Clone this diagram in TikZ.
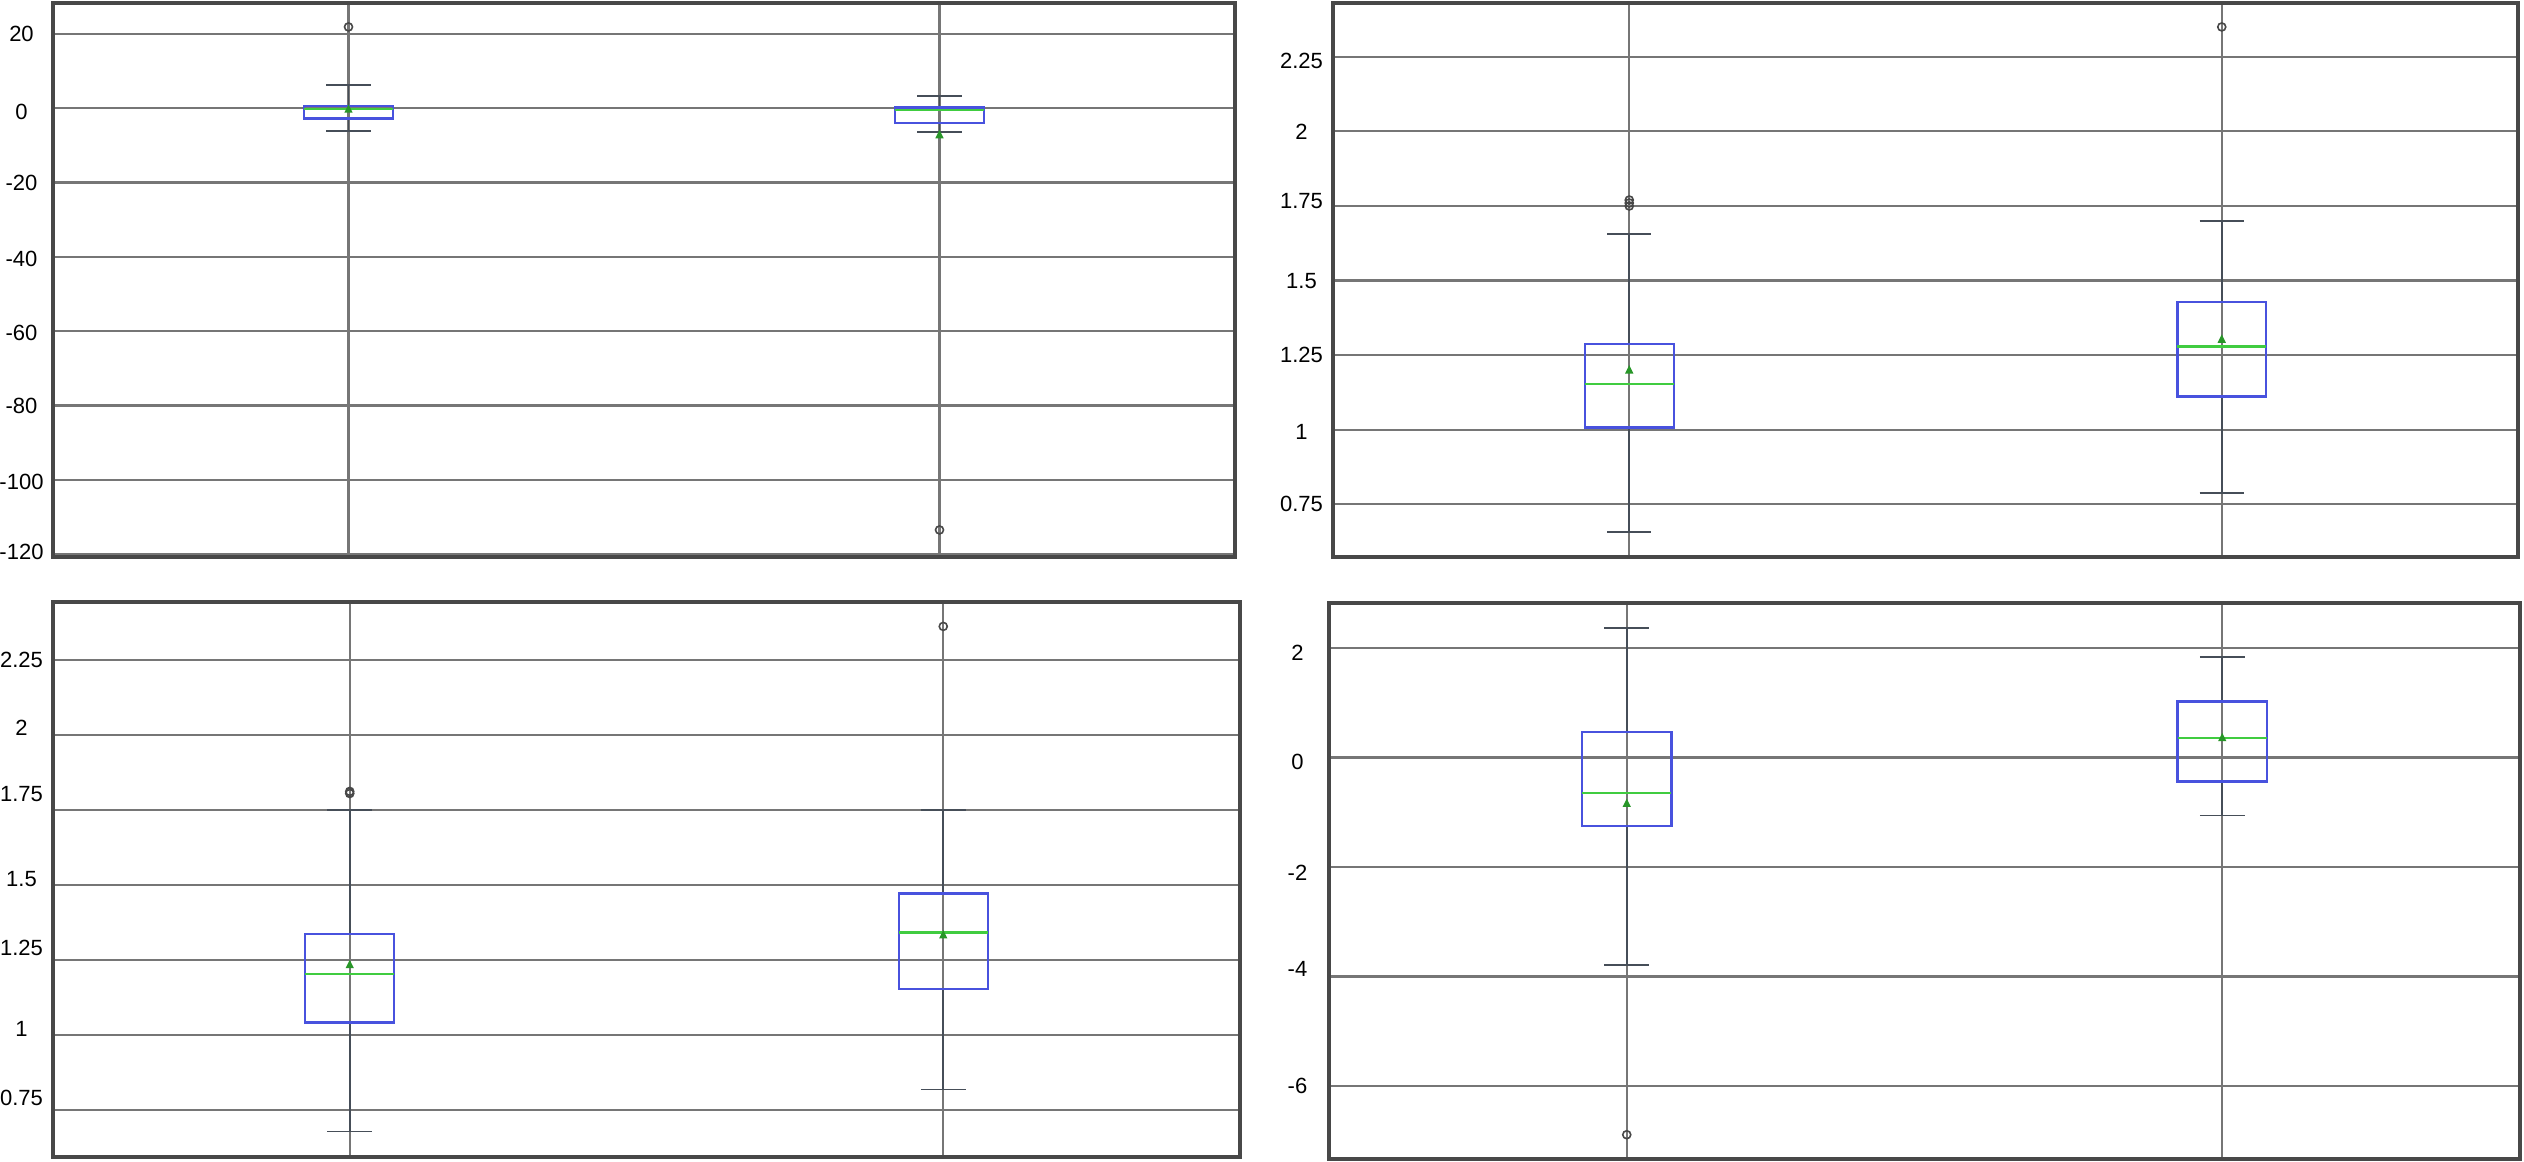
\documentclass[tikz,border=0pt]{standalone}
\usepackage{fontspec}
\setmainfont{Liberation Sans}

\definecolor{boxblue}{RGB}{72,82,222}
\definecolor{medgreen}{RGB}{64,204,64}
\definecolor{meangreen}{RGB}{40,150,40}
\definecolor{gridgray}{RGB}{118,118,118}
\definecolor{framegray}{RGB}{72,72,72}
\definecolor{whiskgray}{RGB}{70,78,88}

% position, low cap, q1, median, q3, high cap, mean
\newcommand{\bxplt}[7]{%
	\draw[whisk] (#1,#3) -- (#1,#2) (#1,#5) -- (#1,#6);
	\draw[whisk] (#1-0.0375,#2) -- (#1+0.0375,#2) (#1-0.0375,#6) -- (#1+0.0375,#6);
	\draw[boxline] (#1-0.075,#3) rectangle (#1+0.075,#5);
	\draw[medline] (#1-0.075,#4) -- (#1+0.075,#4);
	\fill[meanmark] (#1,#7) ++(0,2.2pt) -- ++(-2.1pt,-4.2pt) -- ++(4.2pt,0) -- cycle;
}

\begin{document}
\begin{tikzpicture}[%
		gridline/.style = {draw = gridgray, line width = 1.1pt},
		panelframe/.style = {draw = framegray, line width = 2pt},
		whisk/.style = {draw = whiskgray, line width = 0.9pt},
		boxline/.style = {draw = boxblue, line width = 1.2pt},
		medline/.style = {draw = medgreen, line width = 1.2pt},
		meanmark/.style = {fill = meangreen},
		outl/.style = {draw = framegray, line width = 0.8pt},
		ticklabel/.style = {font = \fontsize{11}{13}\selectfont, inner sep = 0pt, xshift = -15.75pt}]
		\fill[white] (0,0) rectangle (1262pt,581pt);
		\useasboundingbox (0,0) rectangle (1262pt,581pt);
		%%%%%%%%%%%%% top left
		\begin{scope}[shift = {(-121.25pt,526.85pt)}, x = 295.5pt, y = 1.8575pt]
			\foreach \v/\dy [count=\i] in {20/0, 0/-1.7, -20/0, -40/-1, -60/-1, -80/0, -100/-1, -120/1.2} {
				\draw[gridline] (0.5,\v) -- (2.5,\v);
				\node[ticklabel, yshift = \dy pt] (tl\i) at (0.5,\v) {\v};
			}
			\draw[gridline] (1,-120.78) -- (1,28.34) (2,-120.78) -- (2,28.34);
			\bxplt{1}{-6.2}{-2.8}{-0.27}{0.62}{6.2}{-0.1}
			\bxplt{2}{-6.4}{-4.04}{-0.46}{0.16}{3.3}{-7.0}
			\draw[outl] (1,21.9) circle (2pt);
			\draw[outl] (2,-113.5) circle (2pt);
			\draw[panelframe] (0.5,-120.78) rectangle (2.5,28.34);
		\end{scope}
		%%%%%%%%%%%%% top right
		\begin{scope}[shift = {(518.375pt,216.9pt)}, x = 296.25pt, y = 149.2pt]
			\foreach \v/\dy [count=\i] in {2.25/-2, 2/0, 1.75/2.5, 1.5/0, 1.25/0, 1/-1, 0.75/0} {
				\draw[gridline] (0.5,\v) -- (2.5,\v);
				\node[ticklabel, yshift = \dy pt] (tr\i) at (0.5,\v) {\v};
			}
			\draw[gridline] (1,0.574) -- (1,2.43) (2,0.574) -- (2,2.43);
			\bxplt{1}{0.658}{1.008}{1.153}{1.287}{1.657}{1.202}
			\bxplt{2}{0.789}{1.111}{1.279}{1.429}{1.701}{1.305}
			\draw[outl] (1,1.75) circle (2pt) (1,1.76) circle (2pt) (1,1.77) circle (2pt);
			\draw[outl] (2,2.35) circle (2pt);
			\draw[panelframe] (0.5,0.574) rectangle (2.5,2.43);
		\end{scope}
		%%%%%%%%%%%%% bottom left
		\begin{scope}[shift = {(-121.875pt,-86.5pt)}, x = 296.75pt, y = 150pt]
			\foreach \v/\dy [count=\i] in {2.25/0, 2/3.75, 1.75/8, 1.5/3, 1.25/6, 1/3, 0.75/6} {
				\draw[gridline] (0.5,\v) -- (2.5,\v);
				\node[ticklabel, yshift = \dy pt] (bl\i) at (0.5,\v) {\v};
			}
			\draw[gridline] (1,0.593) -- (1,2.443) (2,0.593) -- (2,2.443);
			\bxplt{1}{0.678}{1.042}{1.203}{1.336}{1.75}{1.236}
			\bxplt{2}{0.818}{1.153}{1.342}{1.471}{1.75}{1.335}
			\draw[outl] (1,1.805) circle (2pt) (1,1.812) circle (2pt);
			\draw[outl] (2,2.362) circle (2pt);
			\draw[panelframe] (0.5,0.593) rectangle (2.5,2.443);
		\end{scope}
		%%%%%%%%%%%%% bottom right
		\begin{scope}[shift = {(515.625pt,202.25pt)}, x = 297.75pt, y = 27.375pt]
			\foreach \v/\dy [count=\i] in {2/-2.5, 0/-2, -2/-3, -4/3.75, -6/0} {
				\draw[gridline] (0.5,\v) -- (2.5,\v);
				\node[ticklabel, yshift = \dy pt] (br\i) at (0.5,\v) {\v};
			}
			\draw[gridline] (1,-7.333) -- (1,2.822) (2,-7.333) -- (2,2.822);
			\bxplt{1}{-3.79}{-1.25}{-0.65}{0.47}{2.37}{-0.83}
			\bxplt{2}{-1.06}{-0.44}{0.36}{1.02}{1.84}{0.37}
			\draw[outl] (1,-6.89) circle (2pt);
			\draw[panelframe] (0.5,-7.333) rectangle (2.5,2.822);
		\end{scope}
	\end{tikzpicture}
\end{document}
